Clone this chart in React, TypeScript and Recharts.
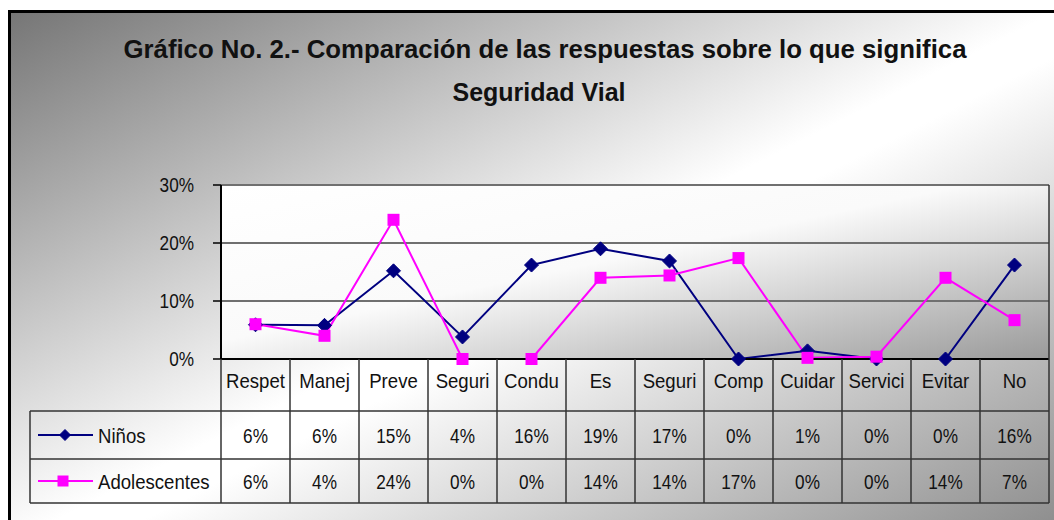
import { LineChart, Line, XAxis, YAxis, CartesianGrid } from "recharts";

const categories = ["Respet", "Manej", "Preve", "Seguri", "Condu", "Es", "Seguri", "Comp", "Cuidar", "Servici", "Evitar", "No"];
const ninos = [5.9, 5.8, 15.2, 3.8, 16.2, 19.0, 16.9, 0, 1.4, 0, 0, 16.2];
const adolescentes = [6.0, 4.0, 24.0, 0, 0, 14.0, 14.4, 17.4, 0.2, 0.4, 14.0, 6.7];
const yTicks = [0, 10, 20, 30];
const titleLines = ["Gráfico No. 2.- Comparación de las respuestas sobre lo que significa", "Seguridad Vial"];

const data = categories.map((c, i) => ({ cat: c, ninos: ninos[i], adolescentes: adolescentes[i] }));

const FONT = "'Liberation Sans', Arial, sans-serif";
const NAVY = "#000080";
const MAGENTA = "#FF00FF";
const LINE = "#333";

const W = 1046;
const H = 512;
const PLOT_L = 213;
const PLOT_R = 1041;
const PLOT_T = 177;
const PLOT_B = 351;
const BAND = (PLOT_R - PLOT_L) / categories.length;
const PLOT_H = PLOT_B - PLOT_T;
const ROW1 = 52;
const ROW2 = 100;
const ROW3 = 144;
const LEG_L = 22;
const NARROW = 0.86;

const pct = (v: number) => `${Math.round(v)}%`;

const Diamond = ({ cx, cy, r }: { cx: number; cy: number; r: number }) => (
  <polygon points={`${cx},${cy - r} ${cx + r},${cy} ${cx},${cy + r} ${cx - r},${cy}`} fill={NAVY} stroke={NAVY} />
);

const Square = ({ cx, cy, r }: { cx: number; cy: number; r: number }) => (
  <rect x={cx - r} y={cy - r} width={r * 2} height={r * 2} fill={MAGENTA} />
);

// narrow-looking text: squeeze horizontally round its anchor
const NText = ({ x, y, children, anchor = "middle", sx = NARROW }: any) => (
  <text
    transform={`translate(${x},${y}) scale(${sx},1)`}
    fontFamily={FONT}
    fontSize={20}
    fill="#111"
    textAnchor={anchor}
  >
    {children}
  </text>
);

const YTick = (props: any) => {
  const { x, y, payload } = props;
  return <NText x={x} y={y + 7} anchor="end">{`${payload.value}%`}</NText>;
};

// the data table below the plot, drawn column by column from the x axis ticks
const TableTick = (props: any) => {
  const { x, y, index } = props;
  const half = BAND / 2;
  const last = index === categories.length - 1;
  return (
    <g>
      {index === 0 && (
        <g>
          <line x1={LEG_L} x2={x - half} y1={y + ROW1} y2={y + ROW1} stroke={LINE} strokeWidth={1.5} />
          <line x1={LEG_L} x2={x - half} y1={y + ROW2} y2={y + ROW2} stroke={LINE} strokeWidth={1.5} />
          <line x1={LEG_L} x2={x - half} y1={y + ROW3} y2={y + ROW3} stroke={LINE} strokeWidth={1.5} />
          <line x1={LEG_L} x2={LEG_L} y1={y + ROW1} y2={y + ROW3} stroke={LINE} strokeWidth={1.5} />
          <line x1={30} x2={85} y1={y + 76} y2={y + 76} stroke={NAVY} strokeWidth={2} />
          <Diamond cx={57} cy={y + 76} r={5.5} />
          <NText x={90} y={y + 84} anchor="start" sx={0.93}>Niños</NText>
          <line x1={30} x2={85} y1={y + 122} y2={y + 122} stroke={MAGENTA} strokeWidth={2} />
          <Square cx={55} cy={y + 122} r={5.5} />
          <NText x={90} y={y + 130} anchor="start" sx={0.93}>Adolescentes</NText>
        </g>
      )}
      <line x1={x - half} x2={x - half} y1={y} y2={y + ROW3} stroke={LINE} strokeWidth={1.5} />
      {last && <line x1={x + half} x2={x + half} y1={y - PLOT_H} y2={y + ROW3} stroke={LINE} strokeWidth={1.5} />}
      <line x1={x - half} x2={x + half} y1={y + ROW1} y2={y + ROW1} stroke={LINE} strokeWidth={1.5} />
      <line x1={x - half} x2={x + half} y1={y + ROW2} y2={y + ROW2} stroke={LINE} strokeWidth={1.5} />
      <line x1={x - half} x2={x + half} y1={y + ROW3} y2={y + ROW3} stroke={LINE} strokeWidth={1.5} />
      <NText x={x} y={y + 29} sx={0.93}>{categories[index]}</NText>
      <NText x={x} y={y + 84}>{pct(ninos[index])}</NText>
      <NText x={x} y={y + 130}>{pct(adolescentes[index])}</NText>
    </g>
  );
};

export default function App() {
  return (
    <div
      style={{
        position: "fixed",
        left: 8,
        top: 8,
        width: W,
        height: H,
        overflow: "hidden",
      }}
    >
      <div
        style={{
          position: "absolute",
          left: 0,
          top: 2,
          width: W + 40,
          height: H + 40,
          borderTop: "3px solid #000",
          borderLeft: "3px solid #000",
          background: "linear-gradient(to bottom right, #767676 0%, #ffffff 48%, #ffffff 52%, #7f7f7f 100%)",
        }}
      />
      <svg width={W} height={120} style={{ position: "absolute", left: 0, top: 0 }}>
        <text x={537} y={50} textAnchor="middle" fontFamily={FONT} fontWeight="bold" fontSize={25} fill="#111" textLength={843} lengthAdjust="spacingAndGlyphs">
          {titleLines[0]}
        </text>
        <text x={531} y={93} textAnchor="middle" fontFamily={FONT} fontWeight="bold" fontSize={25} fill="#111" textLength={173} lengthAdjust="spacingAndGlyphs">
          {titleLines[1]}
        </text>
      </svg>
      <div style={{ position: "absolute", left: 0, top: 0 }}>
        <LineChart width={W} height={H} data={data} margin={{ top: PLOT_T, right: W - PLOT_R, bottom: 9, left: PLOT_L - 60 }}>
          <defs>
            <linearGradient id="plotGrad" x1="0" y1="0" x2="1" y2="1">
              <stop offset="0%" stopColor="#ffffff" />
              <stop offset="45%" stopColor="#fafafa" />
              <stop offset="100%" stopColor="#9a9a9a" />
            </linearGradient>
          </defs>
          <CartesianGrid vertical={false} stroke="#707070" strokeWidth={2} fill="url(#plotGrad)" fillOpacity={1} />
          <XAxis
            dataKey="cat"
            height={H - 9 - PLOT_B}
            interval={0}
            padding={{ left: BAND / 2, right: BAND / 2 }}
            tickLine={false}
            tickSize={0}
            tickMargin={0}
            axisLine={{ stroke: "#000", strokeWidth: 2 }}
            tick={<TableTick />}
          />
          <YAxis
            width={60}
            domain={[0, 30]}
            ticks={yTicks}
            tickSize={8}
            tickMargin={19}
            tickLine={{ stroke: "#000", strokeWidth: 1.5 }}
            axisLine={{ stroke: "#000", strokeWidth: 2 }}
            tick={<YTick />}
          />
          <Line
            dataKey="ninos"
            stroke={NAVY}
            strokeWidth={2}
            isAnimationActive={false}
            dot={(p: any) => <Diamond key={`n${p.index}`} cx={p.cx} cy={p.cy} r={7} />}
          />
          <Line
            dataKey="adolescentes"
            stroke={MAGENTA}
            strokeWidth={2}
            isAnimationActive={false}
            dot={(p: any) => <Square key={`a${p.index}`} cx={p.cx} cy={p.cy} r={6} />}
          />
        </LineChart>
      </div>
    </div>
  );
}
